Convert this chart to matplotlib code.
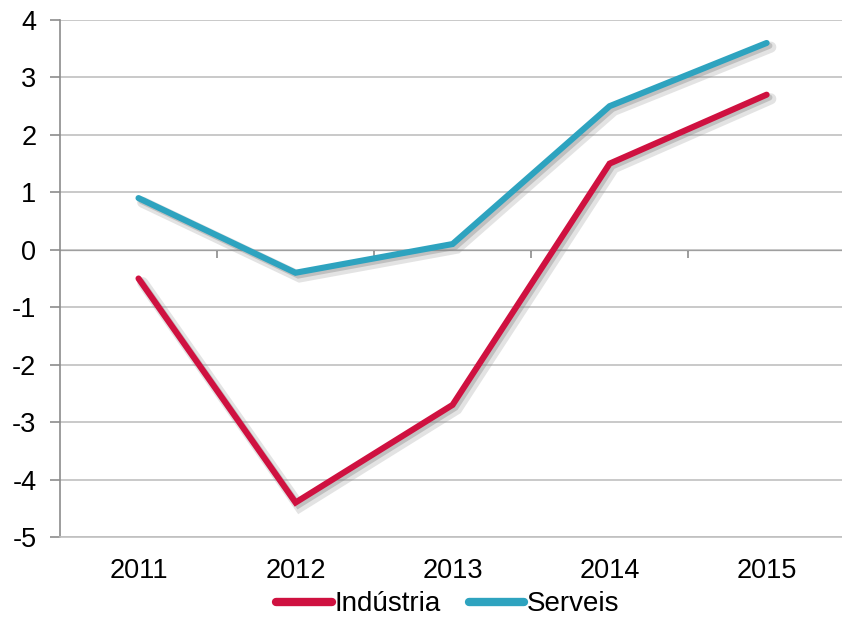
import matplotlib
matplotlib.use('Agg')
import matplotlib.pyplot as plt
import matplotlib.patheffects as pe
import numpy as np

years = ['2011', '2012', '2013', '2014', '2015']
industria = [-0.5, -4.4, -2.7, 1.5, 2.7]
serveis = [0.9, -0.4, 0.1, 2.5, 3.6]

red = '#CF1140'
blue = '#2EA3BF'

plt.rcParams['font.family'] = ['Liberation Sans', 'DejaVu Sans']
plt.rcParams['axes.unicode_minus'] = False

fig = plt.figure(figsize=(8.42, 6.2), dpi=100)
ax = fig.add_axes([60 / 842, 1 - 537 / 620, 782 / 842, 517 / 620])

x = np.arange(len(years))
shadow = [pe.SimpleLineShadow(offset=(3, -3), shadow_color='#909090', alpha=0.25, linewidth=8),
          pe.SimpleLineShadow(offset=(2, -2), shadow_color='#808080', alpha=0.35),
          pe.Normal()]
ax.plot(x, industria, color=red, lw=4.4, solid_capstyle='round', solid_joinstyle='miter',
        label='Indústria', path_effects=shadow, zorder=3)
ax.plot(x, serveis, color=blue, lw=4.4, solid_capstyle='round', solid_joinstyle='miter',
        label='Serveis', path_effects=shadow, zorder=3)

ax.set_xlim(-0.5, 4.48)
ax.set_ylim(-5, 4)
ax.set_yticks(range(-5, 5))
ax.set_xticks(x)
ax.set_xticklabels(years)
ax.grid(axis='y', color='#C0C0C0', lw=1.2)
ax.set_axisbelow(True)

for s in ['top', 'right']:
    ax.spines[s].set_visible(False)
ax.spines['bottom'].set_color('#C0C0C0')
ax.spines['bottom'].set_linewidth(1.2)
ax.spines['left'].set_color('#8C8C8C')
ax.spines['left'].set_linewidth(1.2)

ax.tick_params(axis='y', length=7, width=1.2, color='#8C8C8C', labelsize=19.5, pad=10)
ax.tick_params(axis='x', length=0, labelsize=19.5, pad=15)

# zero line with category-boundary ticks
sec = ax.secondary_xaxis(5 / 9)
sec.set_xticks(x[:-1] + 0.5)
sec.set_xticklabels([])
sec.tick_params(axis='x', length=6, width=1.2, color='#8C8C8C', direction='in')
sec.spines['bottom'].set_color('#8C8C8C')
sec.spines['bottom'].set_linewidth(1.2)

leg = fig.legend(loc='lower center', bbox_to_anchor=(0.532, 0.0), ncol=2, frameon=False,
                 fontsize=20, handlelength=2.0, handletextpad=0.1, columnspacing=1.0,
                 borderpad=0.0, borderaxespad=0.1)
for ln in leg.get_lines():
    ln.set_path_effects([pe.Normal()])
    ln.set_linewidth(6)

fig.savefig('out.png', dpi=100)
